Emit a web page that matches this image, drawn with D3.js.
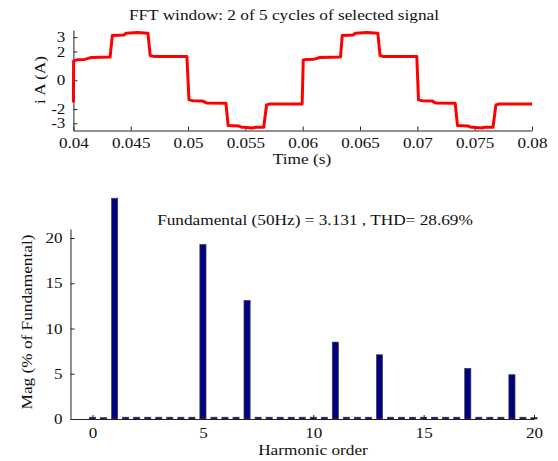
<!DOCTYPE html>
<html>
<head>
<meta charset="utf-8">
<script src="https://cdn.jsdelivr.net/npm/d3@7"></script>
<style>
  body { margin: 0; background: #fff; }
  svg text { font-family: "Liberation Serif", "Times New Roman", serif; font-size: 15px; fill: #111; }
  .axis text { font-size: 14px; }
  .axis path, .axis line { stroke: #222; }
</style>
</head>
<body>
<svg width="558" height="461"></svg>
<script>
// Signal (time in ms, current in A)
const timeMs = [40.00, 40.02, 40.3, 41.0, 41.5, 43.2, 43.4, 44.4, 44.6, 45.6, 46.5, 46.7, 47.0, 49.9,
  50.08, 50.4, 51.3, 51.6, 53.3, 53.5, 54.4, 54.6, 55.6, 55.9, 56.6, 56.85, 57.1, 59.95,
  60.05, 60.3, 61.0, 61.5, 63.3, 63.45, 64.4, 64.6, 65.6, 66.55, 66.75, 67.0, 69.95,
  70.1, 70.4, 71.3, 71.6, 73.3, 73.5, 74.4, 74.6, 75.6, 75.9, 76.6, 76.85, 77.1, 80.0];
const currentA = [-1.55, 1.35, 1.42, 1.45, 1.58, 1.62, 3.12, 3.15, 3.27, 3.32, 3.28, 1.72, 1.66, 1.66,
  -1.36, -1.42, -1.45, -1.58, -1.6, -3.15, -3.18, -3.25, -3.32, -3.27, -3.27, -1.72, -1.66, -1.66,
  1.42, 1.45, 1.47, 1.58, 1.62, 3.12, 3.15, 3.27, 3.33, 3.28, 1.72, 1.66, 1.66,
  -1.36, -1.42, -1.45, -1.58, -1.6, -3.15, -3.18, -3.25, -3.32, -3.27, -3.27, -1.72, -1.66, -1.65];

// Spectrum (0.5 harmonic resolution), % of fundamental
const harmonicOrder = d3.range(0, 20.5, 0.5);
const magnitude = [0.2, 0.15, 100, 0.2, 0.2, 0.2, 0.2, 0.2, 0.2, 0.2, 19.3, 0.2, 0.2, 0.2, 13.1,
  0.2, 0.2, 0.2, 0.2, 0.2, 0.2, 0.2, 8.5, 0.2, 0.2, 0.2, 7.1, 0.2, 0.2, 0.2, 0.2,
  0.2, 0.2, 0.2, 5.6, 0.2, 0.2, 0.2, 4.9, 0.2, 0.15];

const xTicksTop = [0.04, 0.045, 0.05, 0.055, 0.06, 0.065, 0.07, 0.075, 0.08];
const yTicksTop = [-3, -2, 0, 2, 3];
const xTicksBottom = [0, 5, 10, 15, 20];
const yTicksBottom = [0, 5, 10, 15, 20];

const svg = d3.select("svg");
const fmt = d => String(+d.toFixed(3));

// ---- top: signal ----
const xT = d3.scaleLinear().domain([0.04, 0.08]).range([73.4, 532]);
const yT = d3.scaleLinear().domain([-3.5, 3.5]).range([130.5, 30]);

svg.append("text")
    .attr("x", 284).attr("y", 20)
    .attr("text-anchor", "middle")
    .text("FFT window: 2 of 5 cycles of selected signal");

svg.append("g").attr("class", "axis")
    .attr("transform", "translate(0,130.5)")
    .call(d3.axisBottom(xT).tickValues(xTicksTop).tickSize(-4).tickSizeOuter(0).tickFormat(fmt))
    .call(g => g.selectAll("text").attr("y", 8));

svg.append("g").attr("class", "axis")
    .attr("transform", "translate(73.4,0)")
    .call(d3.axisLeft(yT).tickValues(yTicksTop).tickSize(-4).tickSizeOuter(0).tickFormat(fmt))
    .call(g => g.selectAll("text").attr("x", -8));

const signal = timeMs.map((t, i) => [t / 1000, currentA[i]]);
svg.append("path")
    .datum(signal)
    .attr("fill", "none")
    .attr("stroke", "#ff0000")
    .attr("stroke-width", 3)
    .attr("stroke-linejoin", "round")
    .attr("d", d3.line().x(d => xT(d[0])).y(d => yT(d[1])));

svg.append("text")
    .attr("transform", "translate(45,80) rotate(-90)")
    .attr("text-anchor", "middle")
    .text("i A (A)");

svg.append("text")
    .attr("x", 302).attr("y", 164)
    .attr("text-anchor", "middle")
    .text("Time (s)");

// ---- bottom: spectrum ----
const xB = d3.scaleLinear().domain([-1, 20]).range([70.5, 534]);
const yB = d3.scaleLinear().domain([0, 21]).range([419, 229]);
const clipTop = 24.4;   // fundamental bar is cut off here
const barW = xB(0.28) - xB(0);

svg.append("g")
    .selectAll("rect")
    .data(harmonicOrder.map((h, i) => ({ h, m: magnitude[i] })))
    .join("rect")
    .attr("x", d => xB(d.h) - barW / 2)
    .attr("width", barW)
    .attr("y", d => yB(Math.min(d.m, clipTop)))
    .attr("height", d => yB(0) - yB(Math.min(d.m, clipTop)))
    .attr("fill", "#000080")
    .attr("stroke", "#444")
    .attr("stroke-width", 0.7);

svg.append("g").attr("class", "axis")
    .attr("transform", "translate(0,419)")
    .call(d3.axisBottom(xB).tickValues(xTicksBottom).tickSize(-4).tickSizeOuter(0))
    .call(g => g.selectAll("text").attr("y", 9));

svg.append("g").attr("class", "axis")
    .attr("transform", "translate(70.5,0)")
    .call(d3.axisLeft(yB).tickValues(yTicksBottom).tickSize(-4).tickSizeOuter(0))
    .call(g => g.selectAll("text").attr("x", -8));

svg.append("text")
    .attr("x", 315).attr("y", 225)
    .attr("text-anchor", "middle")
    .text("Fundamental (50Hz) = 3.131 , THD= 28.69%");

svg.append("text")
    .attr("transform", "translate(32,322) rotate(-90)")
    .attr("text-anchor", "middle")
    .text("Mag (% of Fundamental)");

svg.append("text")
    .attr("x", 313).attr("y", 455)
    .attr("text-anchor", "middle")
    .text("Harmonic order");

// the reference text is drawn a little wider than normal
svg.selectAll("text").each(function () {
    const k = this.closest(".axis") ? 1.22 : 1.15;
    const w = this.getComputedTextLength();
    d3.select(this).attr("textLength", w * k).attr("lengthAdjust", "spacingAndGlyphs");
});
</script>
</body>
</html>
